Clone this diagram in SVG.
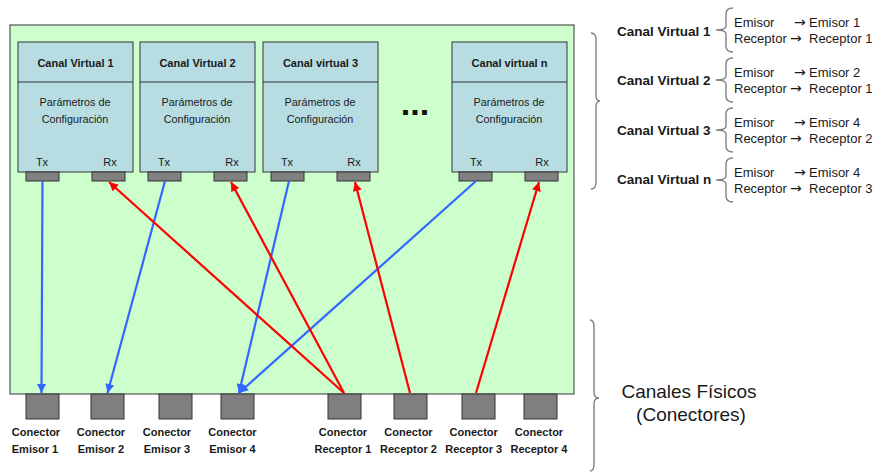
<svg xmlns="http://www.w3.org/2000/svg" width="875" height="473" viewBox="0 0 875 473">
<defs>
<style>
text{font-family:"Liberation Sans",Arial,sans-serif;fill:#1a1a1a}
.bg{fill:#ccffcc;stroke:#555;stroke-width:1.2}
.box{fill:#b7dde3;stroke:#333;stroke-width:1}
.port{fill:#808080;stroke:#333;stroke-width:1}
.conn{fill:#7f7f7f;stroke:#333;stroke-width:1}
.title{font-size:11px;font-weight:bold;text-anchor:middle}
.par{font-size:10.8px;text-anchor:middle}
.txrx{font-size:11px;text-anchor:middle}
.clab{font-size:11px;font-weight:bold;text-anchor:middle}
.cv{font-size:13.5px;font-weight:bold}
.er{font-size:13px}
.arw{font-family:"DejaVu Sans",sans-serif;font-size:14px}
.brace{fill:none;stroke:#808080;stroke-width:1.4}
.blue{stroke:#3366ff;stroke-width:2.2;fill:none;marker-end:url(#ab)}
.red{stroke:#ff0000;stroke-width:2.2;fill:none;marker-end:url(#ar)}
</style>
<marker id="ab" viewBox="0 0 10 10" refX="10" refY="5" markerWidth="10" markerHeight="9" markerUnits="userSpaceOnUse" orient="auto"><path d="M0,0 L10,5 L0,10 Z" fill="#3366ff"/></marker>
<marker id="ar" viewBox="0 0 10 10" refX="10" refY="5" markerWidth="10" markerHeight="9" markerUnits="userSpaceOnUse" orient="auto"><path d="M0,0 L10,5 L0,10 Z" fill="#ff0000"/></marker>
</defs>
<rect class="bg" x="10" y="25" width="564" height="369"/>
<g id="cv1">
<rect class="box" x="18" y="42" width="115" height="130"/>
<line x1="18" y1="82" x2="133" y2="82" stroke="#333"/>
<text class="title" x="75.5" y="67">Canal Virtual 1</text>
<text class="par" x="75" y="106">Parámetros de</text>
<text class="par" x="75" y="123">Configuración</text>
<text class="txrx" x="42" y="166">Tx</text>
<text class="txrx" x="110" y="166">Rx</text>
<rect class="port" x="26" y="172" width="33" height="9"/>
<rect class="port" x="92" y="172" width="33" height="9"/>
</g>
<g id="cv2">
<rect class="box" x="140" y="42" width="115" height="130"/>
<line x1="140" y1="82" x2="255" y2="82" stroke="#333"/>
<text class="title" x="197.5" y="67">Canal Virtual 2</text>
<text class="par" x="197" y="106">Parámetros de</text>
<text class="par" x="197" y="123">Configuración</text>
<text class="txrx" x="164" y="166">Tx</text>
<text class="txrx" x="232" y="166">Rx</text>
<rect class="port" x="148" y="172" width="33" height="9"/>
<rect class="port" x="214" y="172" width="33" height="9"/>
</g>
<g id="cv3">
<rect class="box" x="263" y="42" width="115" height="130"/>
<line x1="263" y1="82" x2="378" y2="82" stroke="#333"/>
<text class="title" x="320.5" y="67">Canal virtual 3</text>
<text class="par" x="320" y="106">Parámetros de</text>
<text class="par" x="320" y="123">Configuración</text>
<text class="txrx" x="287" y="166">Tx</text>
<text class="txrx" x="354" y="166">Rx</text>
<rect class="port" x="271" y="172" width="33" height="9"/>
<rect class="port" x="337" y="172" width="33" height="9"/>
</g>
<g id="cvn">
<rect class="box" x="452" y="42" width="115" height="130"/>
<line x1="452" y1="82" x2="567" y2="82" stroke="#333"/>
<text class="title" x="509.5" y="67">Canal virtual n</text>
<text class="par" x="509" y="106">Parámetros de</text>
<text class="par" x="509" y="123">Configuración</text>
<text class="txrx" x="476" y="166">Tx</text>
<text class="txrx" x="542" y="166">Rx</text>
<rect class="port" x="459" y="172" width="33" height="9"/>
<rect class="port" x="525" y="172" width="33" height="9"/>
</g>
<text x="415" y="115" style="font-size:34px;font-weight:bold;text-anchor:middle;fill:#111">...</text>
<g id="ce1"><rect class="conn" x="26" y="394" width="33" height="25"/><text class="clab" x="36" y="436">Conector</text><text class="clab" x="35" y="453">Emisor 1</text></g>
<g id="ce2"><rect class="conn" x="91" y="394" width="33" height="25"/><text class="clab" x="101" y="436">Conector</text><text class="clab" x="101" y="453">Emisor 2</text></g>
<g id="ce3"><rect class="conn" x="159" y="394" width="33" height="25"/><text class="clab" x="167" y="436">Conector</text><text class="clab" x="167" y="453">Emisor 3</text></g>
<g id="ce4"><rect class="conn" x="221" y="394" width="33" height="25"/><text class="clab" x="232.5" y="436">Conector</text><text class="clab" x="232.5" y="453">Emisor 4</text></g>
<g id="cr1"><rect class="conn" x="328" y="394" width="33" height="25"/><text class="clab" x="343" y="436">Conector</text><text class="clab" x="343" y="453">Receptor 1</text></g>
<g id="cr2"><rect class="conn" x="394" y="394" width="33" height="25"/><text class="clab" x="408.5" y="436">Conector</text><text class="clab" x="408.5" y="453">Receptor 2</text></g>
<g id="cr3"><rect class="conn" x="462" y="394" width="33" height="25"/><text class="clab" x="473.7" y="436">Conector</text><text class="clab" x="473.7" y="453">Receptor 3</text></g>
<g id="cr4"><rect class="conn" x="524" y="394" width="33" height="25"/><text class="clab" x="539" y="436">Conector</text><text class="clab" x="539" y="453">Receptor 4</text></g>
<g id="connectors">
<line class="blue" x1="42.5" y1="181" x2="41.5" y2="393"/>
<line class="blue" x1="165" y1="181" x2="107.5" y2="393"/>
<line class="blue" x1="289" y1="181" x2="239" y2="393"/>
<line class="blue" x1="476" y1="181" x2="239" y2="393"/>
<line class="red" x1="344" y1="393" x2="109" y2="182"/>
<line class="red" x1="344" y1="393" x2="231" y2="182"/>
<line class="red" x1="410" y1="393" x2="355" y2="182"/>
<line class="red" x1="476" y1="393" x2="539" y2="182"/>
</g>
<g id="legend">
<path class="brace" d="M591,33 Q596,33 596,40 L596,95 Q596,101 600,101 Q596,101 596,107 L596,182 Q596,189 591,189"/>
<path class="brace" d="M590,320 Q594,320 594,327 L594,392 Q594,398 599,398 Q594,398 594,404 L594,464 Q594,471 590,471"/>
<text x="689" y="398" style="font-size:19px;text-anchor:middle">Canales Físicos</text>
<text x="691" y="421" style="font-size:19px;text-anchor:middle">(Conectores)</text>
<text class="cv" x="617" y="35.5">Canal Virtual 1</text>
<text class="cv" x="617" y="85">Canal Virtual 2</text>
<text class="cv" x="617" y="134.5">Canal Virtual 3</text>
<text class="cv" x="617" y="184">Canal Virtual n</text>
<path class="brace" d="M733,8 Q726,8 726,14 L726,26 Q726,30 716,30 Q726,30 726,34 L726,46 Q726,52 733,52"/>
<path class="brace" d="M733,58 Q726,58 726,64 L726,76 Q726,80 716,80 Q726,80 726,84 L726,96 Q726,102 733,102"/>
<path class="brace" d="M733,108 Q726,108 726,114 L726,126 Q726,130 716,130 Q726,130 726,134 L726,146 Q726,152 733,152"/>
<path class="brace" d="M733,158 Q726,158 726,164 L726,176 Q726,180 716,180 Q726,180 726,184 L726,196 Q726,202 733,202"/>
<text class="er" x="734" y="27">Emisor</text><text class="arw" x="794" y="27">→</text><text class="er" x="809" y="27">Emisor 1</text>
<text class="er" x="734" y="43">Receptor</text><text class="arw" x="790" y="43">→</text><text class="er" x="809" y="43">Receptor 1</text>
<text class="er" x="734" y="77">Emisor</text><text class="arw" x="794" y="77">→</text><text class="er" x="809" y="77">Emisor 2</text>
<text class="er" x="734" y="93">Receptor</text><text class="arw" x="790" y="93">→</text><text class="er" x="809" y="93">Receptor 1</text>
<text class="er" x="734" y="127">Emisor</text><text class="arw" x="794" y="127">→</text><text class="er" x="809" y="127">Emisor 4</text>
<text class="er" x="734" y="143">Receptor</text><text class="arw" x="790" y="143">→</text><text class="er" x="809" y="143">Receptor 2</text>
<text class="er" x="734" y="177">Emisor</text><text class="arw" x="794" y="177">→</text><text class="er" x="809" y="177">Emisor 4</text>
<text class="er" x="734" y="193">Receptor</text><text class="arw" x="790" y="193">→</text><text class="er" x="809" y="193">Receptor 3</text>
</g>
</svg>
